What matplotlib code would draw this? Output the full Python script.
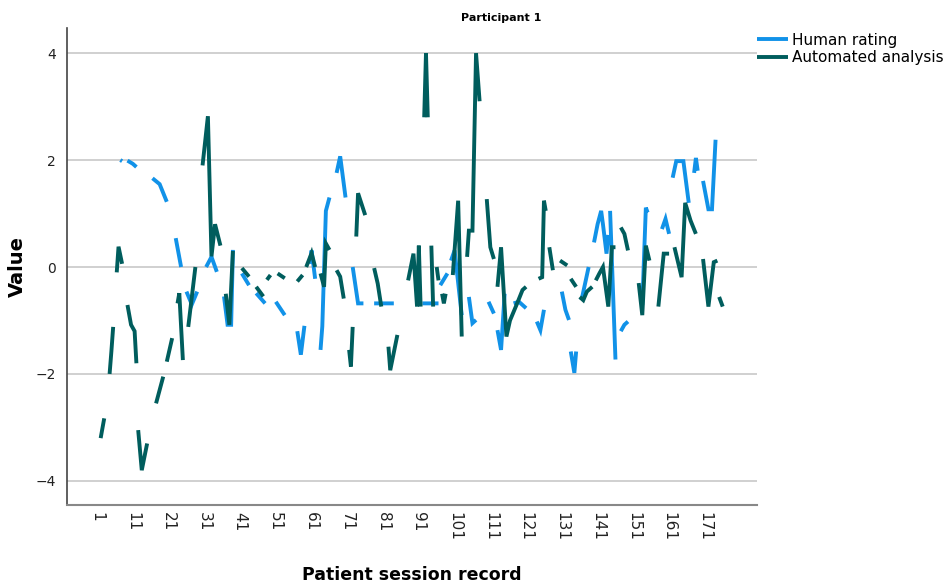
import numpy as np
import matplotlib
matplotlib.use('Agg')
import matplotlib.pyplot as plt

nan = np.nan

# session positions and scores; nan marks a break in the line (missing sessions)
human_session = [7.5, 8, nan, 9.5, 11, 12, nan, 16.5, 18.5, 20.5, nan, 23, 24.5, nan,
                 26, 27.5, 29, nan, 31.5, 33, 34.5, nan, 36.5, 37.5, 38.5, 39, nan,
                 41.5, 43.5, nan, 45.5, 48, nan, 51, 53.5, nan, 57, 58, 59, nan,
                 60.5, 61, 62, nan, 63.5, 64, 65, 66, nan, 68, 69, 70.5, nan,
                 72.5, 74, 75.5, nan, 78.5, 84, nan, 92, 96.5, nan, 97, 99, nan,
                 100, 101, 103, nan, 105, 106, 107, nan, 110.5, 112, nan,
                 113, 114, 115, nan, 117.5, 119, 121, nan, 124, 125, 126, nan,
                 131, 132, 133, nan, 133.5, 134.5, 135, nan, 136.5, 137.5, 138.5, nan,
                 140, 141, 142, 142.5, 143.5, 144, nan, 144.5, 146, nan,
                 147.5, 148.5, 149.5, nan, 153.5, 154.5, 155, nan, 159, 160, 161, nan,
                 162, 163, 165, 166.5, nan, 168, 168.5, 169, nan, 170.5, 172, 173, 174]
human_value = [2.0, 1.98, nan, 1.99, 1.93, 1.87, nan, 1.66, 1.55, 1.22, nan, 0.54, 0.0, nan,
               -0.46, -0.7, -0.46, nan, 0.0, 0.19, -0.09, nan, -0.55, -1.08, -1.08, 0.32, nan,
               -0.12, -0.34, nan, -0.49, -0.68, nan, -0.65, -0.9, nan, -1.2, -1.64, -1.1, nan,
               0.06, 0.31, -0.22, nan, -1.55, -1.11, 1.05, 1.3, nan, 1.76, 2.07, 1.3, nan,
               0.0, -0.68, -0.68, nan, -0.68, -0.68, nan, -0.68, -0.68, nan, -0.34, -0.12, nan,
               0.12, 0.31, -0.9, nan, -0.56, -1.05, -0.99, nan, -0.65, -0.87, nan,
               -1.18, -1.55, -0.5, nan, -0.68, -0.65, -0.77, nan, -1.02, -1.18, -0.8, nan,
               -0.46, -0.8, -0.99, nan, -1.58, -1.98, -1.58, nan, -0.62, -0.31, 0.0, nan,
               0.46, 0.8, 1.05, 0.8, 0.25, 0.6, nan, 1.05, -1.73, nan,
               -1.2, -1.08, -1.02, nan, -0.71, 1.11, 1.02, nan, 0.71, 0.9, 0.62, nan,
               1.67, 1.98, 1.98, 1.2, nan, 1.76, 2.04, 1.8, nan, 1.61, 1.08, 1.08, 2.38]

auto_session = [2, 3, nan, 4.5, 5, 5.5, nan, 6.5, 7, 8, nan, 9.5, 10.5, 11.5, 12, nan,
                12.5, 13.5, 15, nan, 17.5, 19.5, nan, 20.5, 22, nan, 23.5, 24, 25, nan,
                26.5, 28.5, nan, 30.5, 32, 33, 34, 35.5, nan, 37, 38, 39, nan,
                41.5, 43.5, nan, 45.5, 47.5, nan, 48.5, 49.5, nan, 51.5, 53.5, nan,
                57, 58.5, nan, 59.5, 61, 62, nan, 63.5, 64.5, 65, 66, nan,
                68, 69, 70, nan, 71.5, 72, 72.5, nan, 73.5, 74, 76, nan,
                78.5, 79.5, 80.5, nan, 82.5, 83, 85, nan,
                88, 89.5, 90.5, 91, 91.5, nan, 92.5, 93, 93.5, nan, 94.5, 95, nan,
                96, 96.5, nan, 97.5, 98, 98.5, nan, 100.5, 102, 103, nan,
                104.5, 105, 106, 107, 108, nan, 110, 111, 112, nan,
                113, 114, 115.5, 116.5, 118.5, 120, 121, nan,
                124.5, 125.5, 126, 126.5, nan, 127.5, 128.5, nan, 130.5, 132.5, nan,
                133.5, 135, nan, 136, 137, 138, 139.5, nan,
                140.5, 141.5, 142.5, 144, 145, 146, nan, 147.5, 148.5, 149.5, nan,
                152.5, 153.5, 154.5, 155.5, nan, 158, 159.5, 161, nan,
                162.5, 164.5, 165.5, 167, 168.5, nan, 170.5, 172, 173.5, 174.5, nan, 175, 176]
auto_value = [-3.2, -2.83, nan, -2.0, -1.58, -1.12, nan, -0.1, 0.38, 0.06, nan, -0.71, -1.08, -1.2, -1.8, nan,
              -3.05, -3.8, -3.3, nan, -2.55, -2.05, nan, -1.77, -1.33, nan, -0.68, -0.49, -1.74, nan,
              -1.12, 0.0, nan, 1.9, 2.82, 0.2, 0.8, 0.4, nan, -0.5, -1.08, 0.3, nan,
              -0.02, -0.18, nan, -0.37, -0.55, nan, -0.24, -0.15, nan, -0.12, -0.21, nan,
              -0.27, -0.15, nan, 0.0, 0.26, 0.0, nan, -0.12, -0.37, 0.44, 0.32, nan,
              -0.06, -0.18, -0.59, nan, -1.55, -1.86, -1.12, nan, 0.57, 1.38, 0.97, nan,
              -0.02, -0.31, -0.74, nan, -1.49, -1.93, -1.27, nan,
              -0.25, 0.25, -0.74, 0.4, -0.74, nan, 2.8, 4.0, 2.8, nan, 0.4, -0.74, nan,
              0.0, -0.25, nan, -0.5, -0.68, -0.5, nan, -0.15, 1.24, -1.3, nan,
              0.19, 0.68, 0.68, 4.0, 3.1, nan, 1.27, 0.37, 0.15, nan,
              -0.37, 0.37, -1.3, -1.0, -0.68, -0.43, -0.37, nan,
              -0.22, -0.19, 1.24, 1.05, nan, 0.37, -0.06, nan, 0.12, 0.03, nan,
              -0.22, -0.37, nan, -0.56, -0.62, -0.46, -0.37, nan,
              -0.25, -0.12, 0.0, -0.74, 0.37, 0.37, nan, 0.74, 0.62, 0.31, nan,
              -0.3, -0.9, 0.4, 0.12, nan, -0.74, 0.25, 0.25, nan,
              0.37, -0.19, 1.2, 0.87, 0.62, nan, 0.15, -0.74, 0.09, 0.12, nan, -0.56, -0.74]

tick_sessions = list(range(1, 172, 10))

fig = plt.figure(figsize=(9.47, 5.88), dpi=100)
ax = fig.add_axes([0.0708, 0.1412, 0.7286, 0.8112])

line_kw = dict(linewidth=2.8, solid_capstyle='butt', solid_joinstyle='miter')
ax.plot(human_session, human_value, color='#1192e8', label='Human rating', **line_kw)
ax.plot(auto_session, auto_value, color='#005d5d', label='Automated analysis', **line_kw)

ax.set_xlim(-7.4, 185.6)
ax.set_ylim(-4.45, 4.47)
ax.set_yticks([-4, -2, 0, 2, 4])
ax.set_xticks(tick_sessions)
ax.set_xticklabels([str(t) for t in tick_sessions], rotation=270)
ax.tick_params(axis='both', length=0, colors='#222222')
ax.tick_params(axis='y', pad=8, labelsize=10)
ax.tick_params(axis='x', pad=5, labelsize=11)

ax.grid(axis='y', color='#c8c8c8', linewidth=1.2)
ax.set_axisbelow(True)
for side in ['top', 'right']:
    ax.spines[side].set_visible(False)
ax.spines['left'].set_color('#444444')
ax.spines['bottom'].set_color('#888888')
ax.spines['left'].set_linewidth(1.2)
ax.spines['bottom'].set_linewidth(1.5)

ax.set_xlabel('Patient session record', fontsize=12.5, fontweight='bold', labelpad=18)
ax.set_ylabel('Value', fontsize=14, fontweight='bold', labelpad=6)
fig.text(0.529, 0.97, 'Participant 1', fontsize=8, fontweight='bold', ha='center', va='center')

ax.legend(loc='upper left', bbox_to_anchor=(1.0, 0.99), frameon=False, fontsize=11,
          handlelength=2.0, handletextpad=0.3, labelspacing=0.15, borderpad=0, borderaxespad=0)

plt.savefig('out.png', dpi=100)
